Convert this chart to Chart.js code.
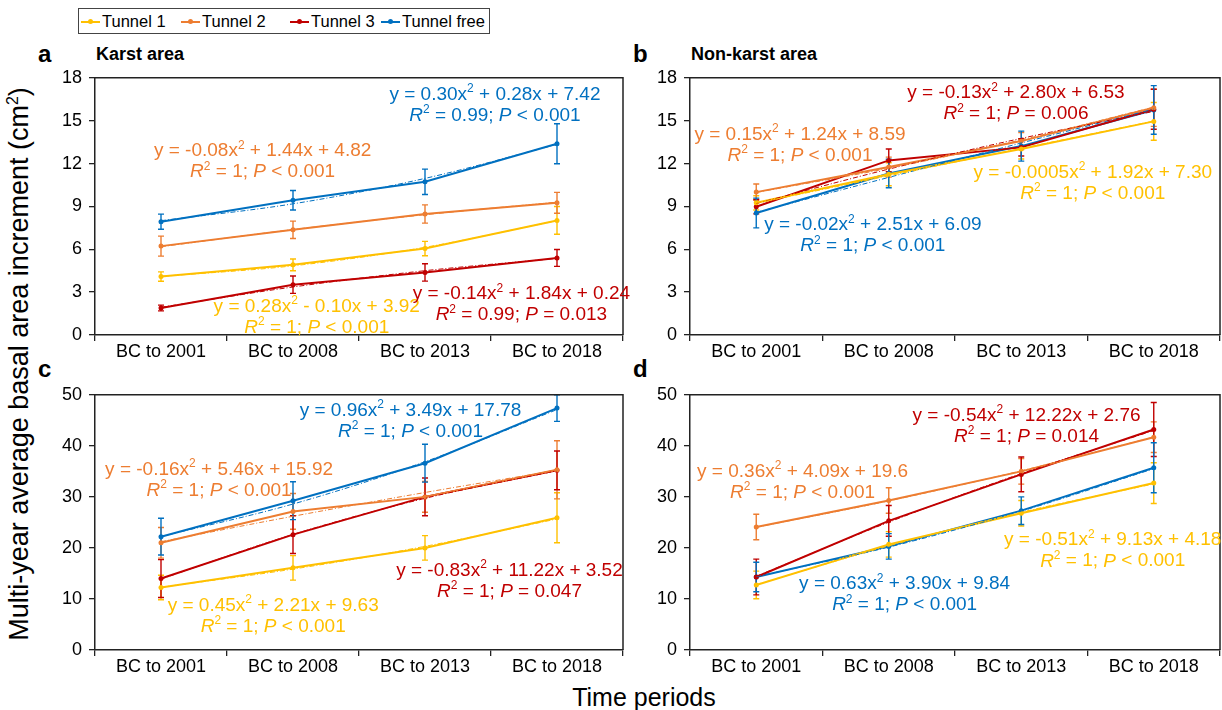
<!DOCTYPE html>
<html>
<head>
<meta charset="utf-8">
<script src="https://cdn.jsdelivr.net/npm/chart.js@4.4.1/dist/chart.umd.min.js"></script>
<style>
  body { margin: 0; background: #fff; font-family: "Liberation Sans", Arial, sans-serif; }
  #wrap { position: relative; width: 1222px; height: 710px; overflow: hidden; }
  .panel { position: absolute; }
  .lbl { position: absolute; font-weight: bold; color: #000; }
  #legend { position: absolute; left: 78px; top: 8px; width: 412px; height: 26px; border: 1px solid #444; box-sizing: border-box; font-size: 16.5px; }
  .item { position: absolute; top: 1px; height: 22px; line-height: 22px; white-space: nowrap; }
  .item i { position: absolute; top: 11px; left: 0; width: 19px; height: 2px; }
  .item b { position: absolute; top: 9px; left: 7px; width: 5px; height: 5px; border-radius: 50%; }
  .item span { position: absolute; left: 21px; }
  #ytitle { position: absolute; left: 19px; top: 364px; transform: translate(-50%, -50%) rotate(-90deg); font-size: 27px; white-space: nowrap; }
  #xtitle { position: absolute; left: 644px; top: 697px; transform: translate(-50%, -50%); font-size: 25px; white-space: nowrap; }
</style>
</head>
<body>
<div id="wrap">
  <div id="legend"></div>
  <div class="lbl" style="left:38px;top:40px;font-size:24px;">a</div>
  <div class="lbl" style="left:96px;top:44px;font-size:18px;">Karst area</div>
  <div class="lbl" style="left:633px;top:40px;font-size:24px;">b</div>
  <div class="lbl" style="left:691px;top:44px;font-size:18px;">Non-karst area</div>
  <div class="lbl" style="left:38px;top:355px;font-size:24px;">c</div>
  <div class="lbl" style="left:633px;top:355px;font-size:24px;">d</div>
  <div id="ytitle">Multi-year average basal area increment (cm<sup style="font-size:16px;">2</sup>)</div>
  <div id="xtitle">Time periods</div>
  <canvas id="pa" class="panel" style="left:40px;top:60px;" width="590" height="310"></canvas>
  <canvas id="pb" class="panel" style="left:635px;top:60px;" width="587" height="310"></canvas>
  <canvas id="pc" class="panel" style="left:40px;top:377px;" width="590" height="308"></canvas>
  <canvas id="pd" class="panel" style="left:635px;top:377px;" width="587" height="308"></canvas>
</div>
<script>
const categories = ['BC to 2001', 'BC to 2008', 'BC to 2013', 'BC to 2018'];
const seriesNames = ['Tunnel 1', 'Tunnel 2', 'Tunnel 3', 'Tunnel free'];
const seriesColors = ['#FFC000', '#ED7D31', '#C00000', '#0070C0'];

// panel a: karst area, small range
const aMeans = [[4.09, 4.91, 6.05, 8.02], [6.22, 7.36, 8.47, 9.25], [1.89, 3.52, 4.38, 5.39], [7.93, 9.43, 10.72, 13.38]];
const aErrors = [[0.33, 0.41, 0.5, 0.97], [0.7, 0.61, 0.64, 0.73], [0.2, 0.61, 0.61, 0.59], [0.53, 0.68, 0.89, 1.4]];
const aFits = [[4.10, 4.84, 6.14, 8.00], [6.18, 7.38, 8.42, 9.30], [1.94, 3.36, 4.50, 5.36], [8.00, 9.18, 10.96, 13.34]];
const aEquations = [
  ['y = 0.28x^2 - 0.10x + 3.92', '*R*^2 = 1; *P* < 0.001'],
  ['y = -0.08x^2 + 1.44x + 4.82', '*R*^2 = 1; *P* < 0.001'],
  ['y = -0.14x^2 + 1.84x + 0.24', '*R*^2 = 0.99; *P* = 0.013'],
  ['y = 0.30x^2 + 0.28x + 7.42', '*R*^2 = 0.99; *P* < 0.001']
];

// panel b: non-karst area, small range
const bMeans = [[9.25, 11.25, 13.02, 14.95], [10.0, 11.75, 13.57, 15.9], [8.98, 12.22, 13.13, 15.8], [8.54, 11.3, 13.22, 15.75]];
const bErrors = [[0.5, 0.8, 0.7, 1.32], [0.57, 0.7, 0.6, 1.3], [0.5, 0.8, 0.6, 1.4], [1.04, 1.0, 1.05, 1.7]];
const bFits = [[9.22, 11.14, 13.06, 14.97], [9.98, 11.67, 13.66, 15.95], [9.20, 11.61, 13.76, 15.65], [8.58, 11.03, 13.44, 15.81]];
const bEquations = [
  ['y = -0.0005x^2 + 1.92x + 7.30', '*R*^2 = 1; *P* < 0.001'],
  ['y = 0.15x^2 + 1.24x + 8.59', '*R*^2 = 1; *P* < 0.001'],
  ['y = -0.13x^2 + 2.80x + 6.53', '*R*^2 = 1; *P* = 0.006'],
  ['y = -0.02x^2 + 2.51x + 6.09', '*R*^2 = 1; *P* < 0.001']
];

// panel c: karst area, large range
const cMeans = [[12.24, 16.1, 20.0, 25.9], [21.0, 27.15, 30.0, 35.3], [14.0, 22.6, 30.0, 35.2], [22.2, 29.25, 36.6, 47.4]];
const cErrors = [[2.4, 2.4, 2.4, 4.9], [3.0, 3.5, 3.0, 5.7], [3.7, 3.7, 3.7, 3.8], [3.6, 3.7, 3.7, 2.6]];
const cFits = [[12.29, 15.85, 20.31, 25.67], [21.22, 26.20, 30.86, 35.20], [13.91, 22.64, 29.71, 35.12], [22.23, 28.60, 36.89, 47.10]];
const cEquations = [
  ['y = 0.45x^2 + 2.21x + 9.63', '*R*^2 = 1; *P* < 0.001'],
  ['y = -0.16x^2 + 5.46x + 15.92', '*R*^2 = 1; *P* < 0.001'],
  ['y = -0.83x^2 + 11.22x + 3.52', '*R*^2 = 1; *P* = 0.047'],
  ['y = 0.96x^2 + 3.49x + 17.78', '*R*^2 = 1; *P* < 0.001']
];

// panel d: non-karst area, large range
const dMeans = [[12.75, 20.7, 26.8, 32.7], [24.1, 29.3, 35.0, 41.7], [14.3, 25.3, 34.4, 43.2], [14.3, 20.3, 27.3, 35.7]];
const dErrors = [[2.7, 2.5, 2.5, 4.0], [2.5, 2.5, 2.5, 3.0], [3.5, 3.0, 3.4, 5.3], [2.9, 2.5, 2.7, 4.9]];
const dFits = [[12.80, 20.40, 26.98, 32.54], [24.05, 29.22, 35.11, 41.72], [14.44, 25.04, 34.56, 43.00], [14.37, 20.16, 27.21, 35.52]];
const dEquations = [
  ['y = -0.51x^2 + 9.13x + 4.18', '*R*^2 = 1; *P* < 0.001'],
  ['y = 0.36x^2 + 4.09x + 19.6', '*R*^2 = 1; *P* < 0.001'],
  ['y = -0.54x^2 + 12.22x + 2.76', '*R*^2 = 1; *P* = 0.014'],
  ['y = 0.63x^2 + 3.90x + 9.84', '*R*^2 = 1; *P* < 0.001']
];

// where each equation sits: [category position, value of first line]
const aEqPos = [[1.18, 1.98], [0.77, 12.88], [2.73, 2.86], [2.53, 16.84]];
const bEqPos = [[2.54, 11.38], [0.33, 14.04], [1.96, 16.93], [0.88, 7.70]];
const cEqPos = [[0.85, 8.76], [0.44, 35.4], [2.64, 15.6], [1.89, 46.9]];
const dEqPos = [[2.69, 21.5], [0.35, 34.9], [2.04, 45.9], [1.12, 12.95]];

const FONT = '"Liberation Sans", Arial, sans-serif';

// legend
var legend = document.getElementById('legend');
var legendX = [2, 102, 211, 302];
seriesNames.forEach(function (name, i) {
    var d = document.createElement('div');
    d.className = 'item';
    d.style.left = legendX[i] + 'px';
    d.innerHTML = '<i style="background:' + seriesColors[i] + '"></i><b style="background:' + seriesColors[i] + '"></b><span>' + name + '</span>';
    legend.appendChild(d);
});

// text with ^2 superscripts and *italic* parts
function drawRich(ctx, str, cx, cy, color, size) {
    var parts = str.split(/(\*[^*]+\*|\^\d)/).filter(function (p) { return p.length; });
    var segs = parts.map(function (p) {
        if (p[0] === '*') return { t: p.slice(1, -1), font: 'italic ' + size + 'px ' + FONT, dy: 0 };
        if (p[0] === '^') return { t: p.slice(1), font: Math.round(size * 0.62) + 'px ' + FONT, dy: -size * 0.3 };
        return { t: p, font: size + 'px ' + FONT, dy: 0 };
    });
    var w = 0;
    segs.forEach(function (s) { ctx.font = s.font; s.w = ctx.measureText(s.t).width; w += s.w; });
    var x = cx - w / 2;
    ctx.fillStyle = color;
    ctx.textBaseline = 'middle';
    ctx.textAlign = 'left';
    segs.forEach(function (s) { ctx.font = s.font; ctx.fillText(s.t, x, cy + s.dy); x += s.w; });
}

const panelPlugin = {
    id: 'panelExtras',
    beforeDatasetsDraw: function (chart) {
        var ctx = chart.ctx, x = chart.scales.x, y = chart.scales.y, area = chart.chartArea;
        ctx.save();
        ctx.beginPath();
        ctx.rect(area.left, area.top - 1, area.right - area.left, area.bottom - area.top + 1);
        ctx.clip();
        chart.data.datasets.forEach(function (ds) {
            if (!ds.errorBars) return;
            ctx.strokeStyle = ds.borderColor;
            ctx.lineWidth = 1.4;
            ds.data.forEach(function (v, i) {
                var px = x.getPixelForValue(i);
                var top = y.getPixelForValue(v + ds.errorBars[i]);
                var bot = y.getPixelForValue(v - ds.errorBars[i]);
                ctx.beginPath();
                ctx.moveTo(px, top); ctx.lineTo(px, bot);
                ctx.moveTo(px - 3, top); ctx.lineTo(px + 3, top);
                ctx.moveTo(px - 3, bot); ctx.lineTo(px + 3, bot);
                ctx.stroke();
            });
        });
        ctx.restore();
    },
    afterDatasetsDraw: function (chart) {
        var ctx = chart.ctx, x = chart.scales.x, y = chart.scales.y, area = chart.chartArea;
        var opts = chart.config.options.plugins.panelExtras;
        ctx.save();
        // frame top and right
        ctx.strokeStyle = '#222';
        ctx.lineWidth = 1.5;
        ctx.beginPath();
        ctx.moveTo(area.left, area.top); ctx.lineTo(area.right, area.top); ctx.lineTo(area.right, area.bottom);
        ctx.stroke();
        opts.equations.forEach(function (eq, i) {
            var px = x.getPixelForValue(opts.positions[i][0]);
            var py = y.getPixelForValue(opts.positions[i][1]);
            drawRich(ctx, eq[0], px, py, seriesColors[i], 19);
            drawRich(ctx, eq[1], px, py + 21, seriesColors[i], 19);
        });
        ctx.restore();
    }
};

function makePanel(id, means, errors, fits, equations, positions, yMax, yStep, padRight, xHeight) {
    var datasets = [];
    seriesNames.forEach(function (name, i) {
        datasets.push({
            label: name + ' fit',
            data: fits[i],
            borderColor: seriesColors[i],
            borderWidth: 1,
            borderDash: [5, 2, 1, 2],
            pointRadius: 0,
            cubicInterpolationMode: 'monotone',
            fill: false
        });
    });
    seriesNames.forEach(function (name, i) {
        datasets.push({
            label: name,
            data: means[i],
            errorBars: errors[i],
            borderColor: seriesColors[i],
            backgroundColor: seriesColors[i],
            borderWidth: 2,
            pointRadius: 2.5,
            pointBorderWidth: 0,
            tension: 0,
            fill: false
        });
    });

    new Chart(document.getElementById(id).getContext('2d'), {
        type: 'line',
        data: { labels: categories, datasets: datasets },
        options: {
            responsive: false,
            animation: false,
            layout: { autoPadding: false, padding: { top: 11, right: padRight, left: 0, bottom: 0 } },
            plugins: {
                legend: { display: false },
                tooltip: { enabled: false },
                panelExtras: { equations: equations, positions: positions }
            },
            scales: {
                x: {
                    offset: true,
                    grid: { offset: true, drawOnChartArea: false, drawTicks: true, tickLength: 6, color: '#222', lineWidth: 1.3 },
                    border: { display: true, color: '#222', width: 1.5 },
                    ticks: { color: '#000', font: { family: FONT, size: 18 }, padding: 0, maxRotation: 0 },
                    afterFit: function (s) { s.height = xHeight; }
                },
                y: {
                    min: 0,
                    max: yMax,
                    ticks: { stepSize: yStep, color: '#000', font: { family: FONT, size: 18 }, padding: 7 },
                    grid: { drawOnChartArea: false, drawTicks: true, tickLength: 6, color: '#222', lineWidth: 1.3 },
                    border: { display: true, color: '#222', width: 1.5 },
                    afterFit: function (s) { s.width = 55; }
                }
            }
        },
        plugins: [panelPlugin]
    });
}

makePanel('pa', aMeans, aErrors, aFits, aEquations, aEqPos, 18, 3, 7, 35);
makePanel('pb', bMeans, bErrors, bFits, bEquations, bEqPos, 18, 3, 2, 35);
makePanel('pc', cMeans, cErrors, cFits, cEquations, cEqPos, 50, 10, 7, 35);
makePanel('pd', dMeans, dErrors, dFits, dEquations, dEqPos, 50, 10, 2, 35);
</script>
</body>
</html>
